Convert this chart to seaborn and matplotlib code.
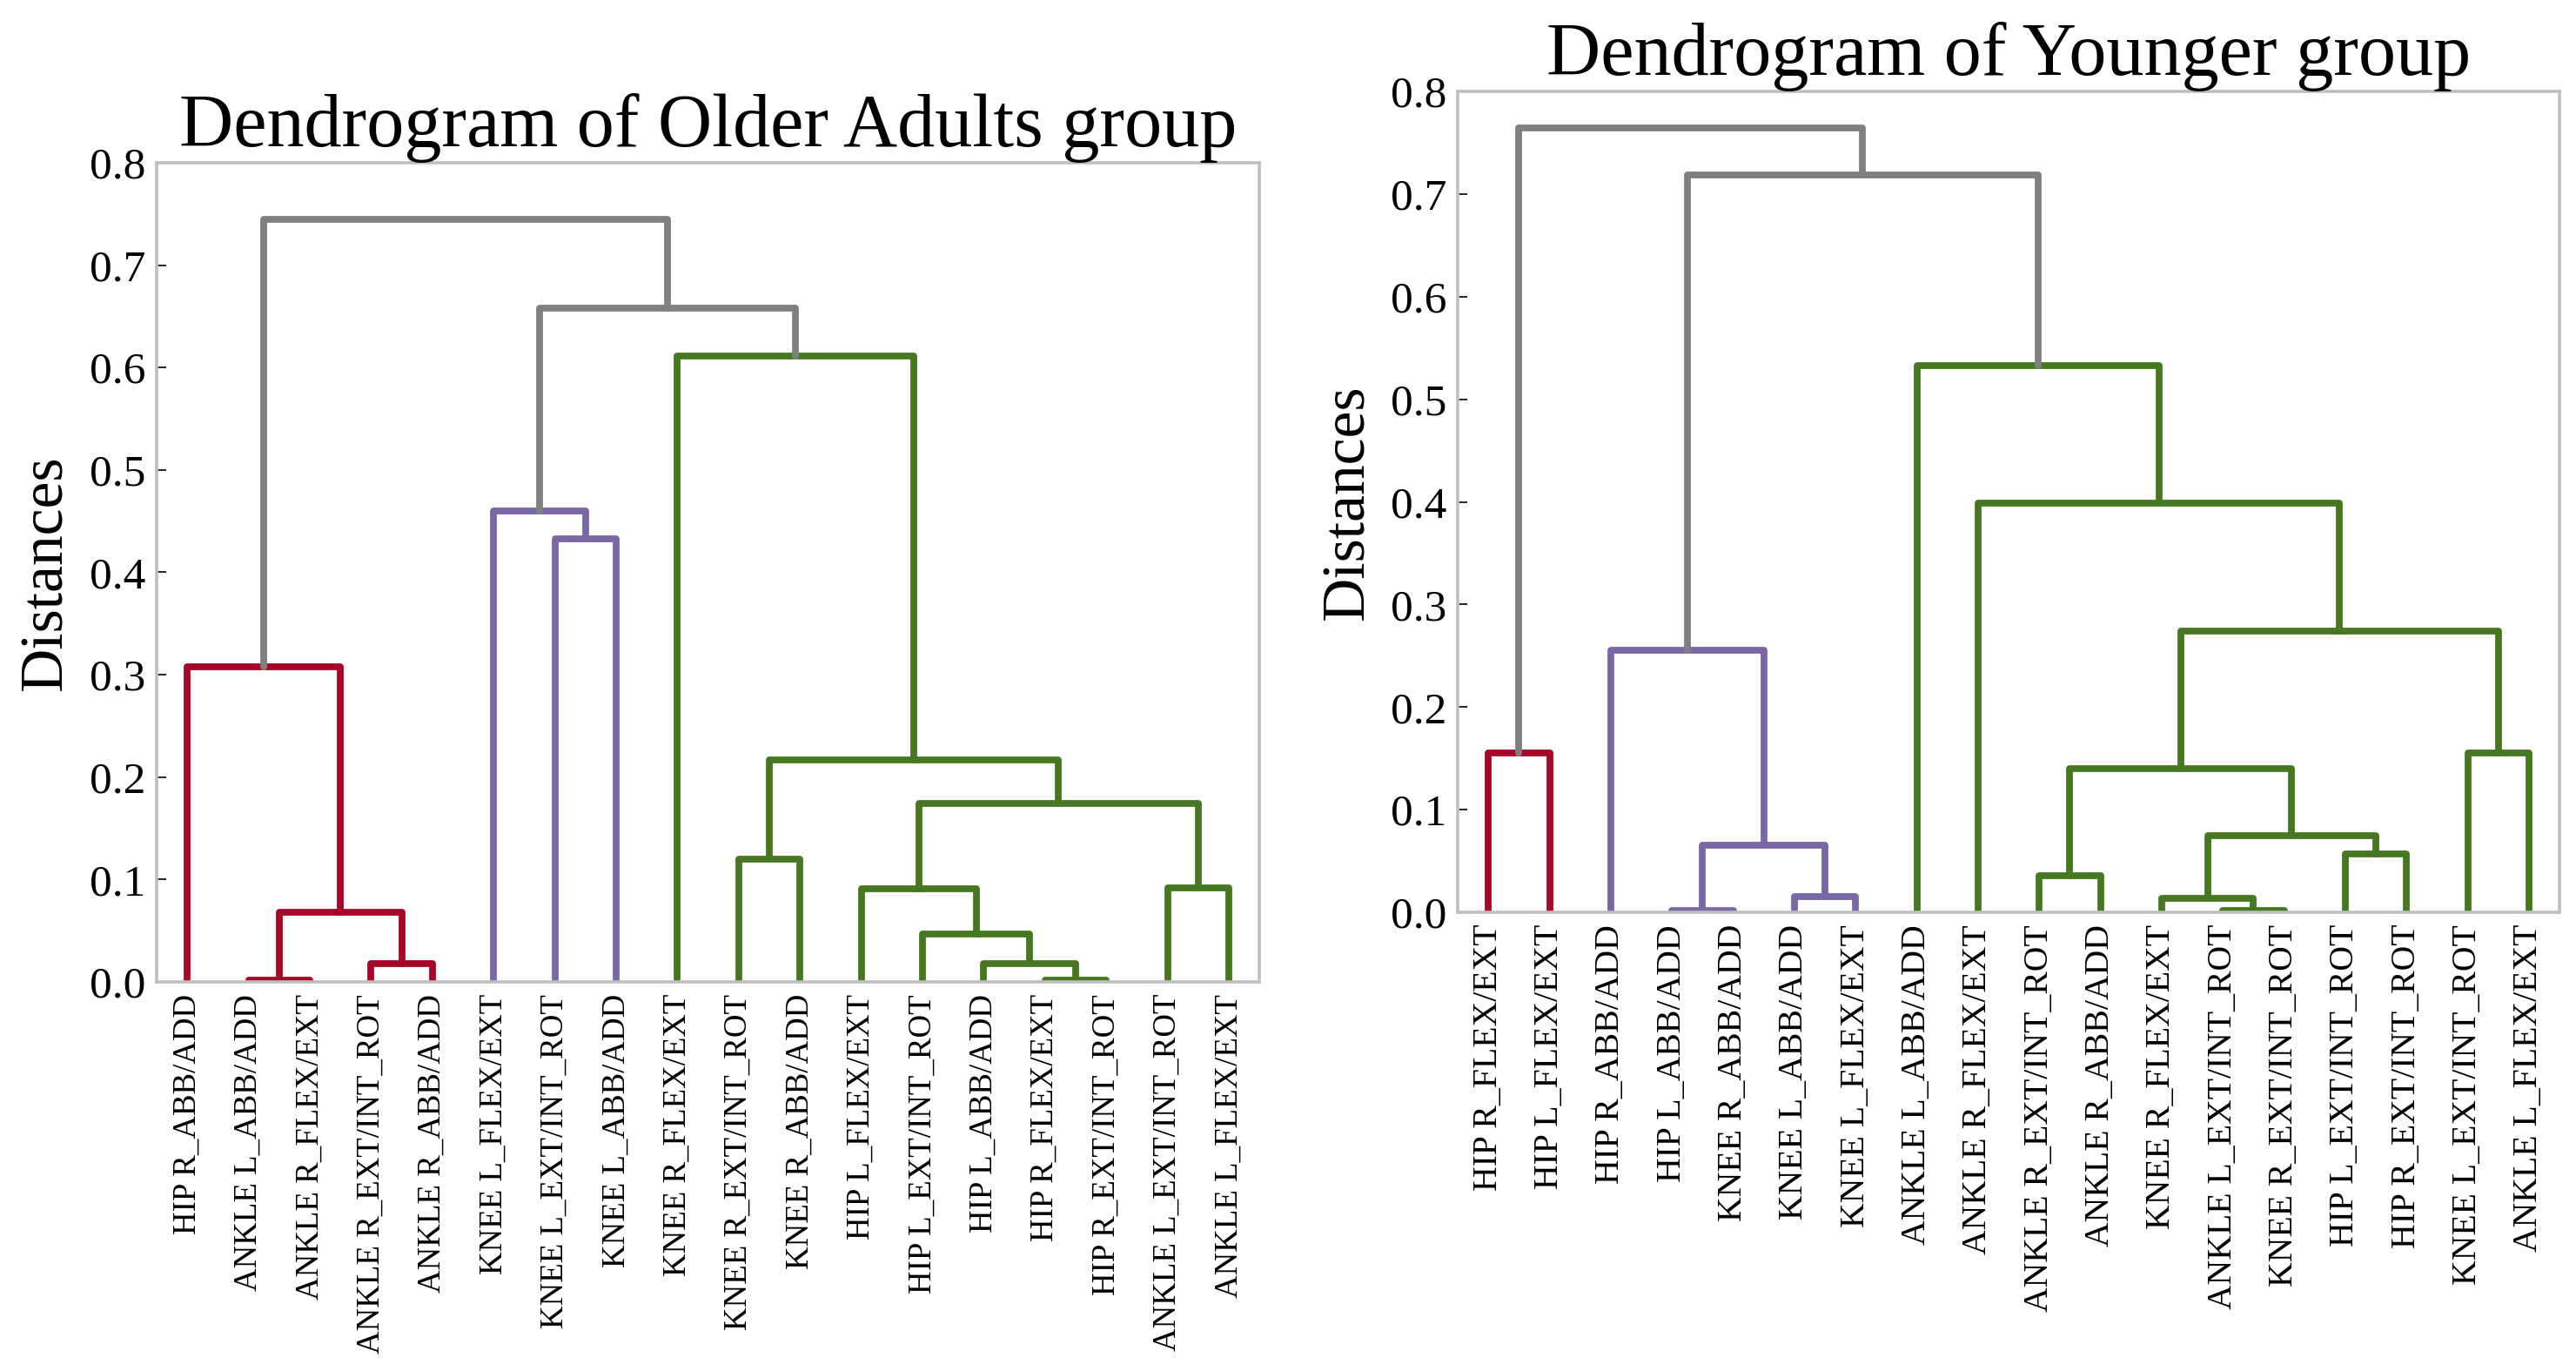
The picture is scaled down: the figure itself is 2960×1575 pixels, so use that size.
import numpy as np
import pandas as pd
import matplotlib
matplotlib.use("Agg")
import matplotlib.pyplot as plt
import seaborn as sns

# ---------------- data ----------------
older_labels = ["HIP R_ABB/ADD", "ANKLE L_ABB/ADD", "ANKLE R_FLEX/EXT", "ANKLE R_EXT/INT_ROT",
                "ANKLE R_ABB/ADD", "KNEE L_FLEX/EXT", "KNEE L_EXT/INT_ROT", "KNEE L_ABB/ADD",
                "KNEE R_FLEX/EXT", "KNEE R_EXT/INT_ROT", "KNEE R_ABB/ADD", "HIP L_FLEX/EXT",
                "HIP L_EXT/INT_ROT", "HIP L_ABB/ADD", "HIP R_FLEX/EXT", "HIP R_EXT/INT_ROT",
                "ANKLE L_EXT/INT_ROT", "ANKLE L_FLEX/EXT"]
# merges: node ids 0..17 are leaves (display order), 18+k is the k-th merge
older_left = [1, 14, 3, 13, 12, 18, 11, 16, 9, 24, 26, 0, 6, 5, 8, 31, 29]
older_right = [2, 15, 4, 19, 21, 20, 22, 17, 10, 25, 27, 23, 7, 30, 28, 32, 33]
older_height = [0.002, 0.002, 0.018, 0.018, 0.047, 0.068, 0.091, 0.092, 0.120,
                0.174, 0.217, 0.308, 0.433, 0.460, 0.611, 0.658, 0.745]
older_threshold = 0.62

younger_labels = ["HIP R_FLEX/EXT", "HIP L_FLEX/EXT", "HIP R_ABB/ADD", "HIP L_ABB/ADD",
                  "KNEE R_ABB/ADD", "KNEE L_ABB/ADD", "KNEE L_FLEX/EXT", "ANKLE L_ABB/ADD",
                  "ANKLE R_FLEX/EXT", "ANKLE R_EXT/INT_ROT", "ANKLE R_ABB/ADD", "KNEE R_FLEX/EXT",
                  "ANKLE L_EXT/INT_ROT", "KNEE R_EXT/INT_ROT", "HIP L_EXT/INT_ROT", "HIP R_EXT/INT_ROT",
                  "KNEE L_EXT/INT_ROT", "ANKLE L_FLEX/EXT"]
younger_left = [3, 12, 11, 5, 9, 14, 18, 20, 22, 0, 16, 2, 26, 8, 7, 29, 27]
younger_right = [4, 13, 19, 6, 10, 15, 21, 23, 25, 1, 17, 24, 28, 30, 31, 32, 33]
younger_height = [0.002, 0.002, 0.014, 0.015, 0.036, 0.057, 0.065, 0.075, 0.140,
                  0.155, 0.155, 0.255, 0.274, 0.399, 0.533, 0.719, 0.764]
younger_threshold = 0.60

cluster_colors = ["#A60628", "#7A68A6", "#467821"]
above_color = "#808080"

y_ticks = [0.0, 0.1, 0.2, 0.3, 0.4, 0.5, 0.6, 0.7, 0.8]


def dendro_frame(labels, left, right, height, threshold):
    n = len(labels)
    x = {i: 5.0 + 10.0 * i for i in range(n)}
    y = {i: 0.0 for i in range(n)}
    parent = {}
    for k, (a, b, h) in enumerate(zip(left, right, height)):
        node = n + k
        parent[a] = node
        parent[b] = node
        x[node] = (x[a] + x[b]) / 2.0
        y[node] = h

    def root(node):
        while node in parent and y[parent[node]] < threshold:
            node = parent[node]
        return node

    color_of = {}
    for leaf in range(n):
        r = root(leaf)
        if r >= n and r not in color_of:
            color_of[r] = cluster_colors[len(color_of) % len(cluster_colors)]

    rows = []
    for k, (a, b, h) in enumerate(zip(left, right, height)):
        col = above_color if h >= threshold else color_of[root(n + k)]
        xs = [x[a], x[a], x[b], x[b]]
        ys = [y[a], h, h, y[b]]
        for j in range(4):
            rows.append({"link": k, "order": j, "x": xs[j], "y": ys[j], "color": col})
    return pd.DataFrame(rows)


sns.set_theme(style="white")
plt.rcParams["font.family"] = ["Liberation Serif", "DejaVu Serif"]
plt.rcParams["text.color"] = "black"
plt.rcParams["axes.labelcolor"] = "black"
plt.rcParams["xtick.color"] = "black"
plt.rcParams["ytick.color"] = "black"

fig = plt.figure(figsize=(14.8, 7.875), dpi=200)
ax1 = fig.add_axes([0.0608, 0.2838, 0.4281, 0.5975])
ax2 = fig.add_axes([0.5659, 0.3346, 0.4277, 0.5987])

panels = [
    (ax1, older_labels, older_left, older_right, older_height, older_threshold,
     "Dendrogram of Older Adults group", 13.3),
    (ax2, younger_labels, younger_left, younger_right, younger_height, younger_threshold,
     "Dendrogram of Younger group", 14.3),
]

hue_order = cluster_colors + [above_color]
for ax, labels, left, right, height, thr, title, lfs in panels:
    df = dendro_frame(labels, left, right, height, thr)
    sns.lineplot(data=df, x="x", y="y", units="link", estimator=None, sort=False,
                 hue="color", hue_order=hue_order,
                 palette={c: c for c in hue_order}, legend=False,
                 linewidth=2.8, ax=ax)
    n = len(labels)
    ax.set_xlim(0, 10 * n)
    ax.set_ylim(0, 0.8)
    ax.set_xticks([5 + 10 * i for i in range(n)])
    ax.set_xticklabels(labels, rotation=90, fontsize=lfs, color="black")
    ax.set_yticks(y_ticks)
    ax.set_yticklabels([f"{v:.1f}" for v in y_ticks], fontsize=18.5, color="black")
    ax.tick_params(axis="y", direction="in", length=4, width=0.6, color="black", pad=4.7,
                   left=True)
    ax.tick_params(axis="x", direction="in", length=0, pad=5)
    for sp in ax.spines.values():
        sp.set_color("#bfbfbf")
        sp.set_linewidth(1.3)
        sp.set_visible(True)
    ax.set_xlabel("")
    ax.set_ylabel("Distances", fontsize=25, labelpad=6, color="black")
    ax.set_title(title, fontsize=31, pad=7, color="black")
    ax.grid(False)
    ax.set_facecolor("white")

fig.savefig("out.png", dpi=200, facecolor="white")
